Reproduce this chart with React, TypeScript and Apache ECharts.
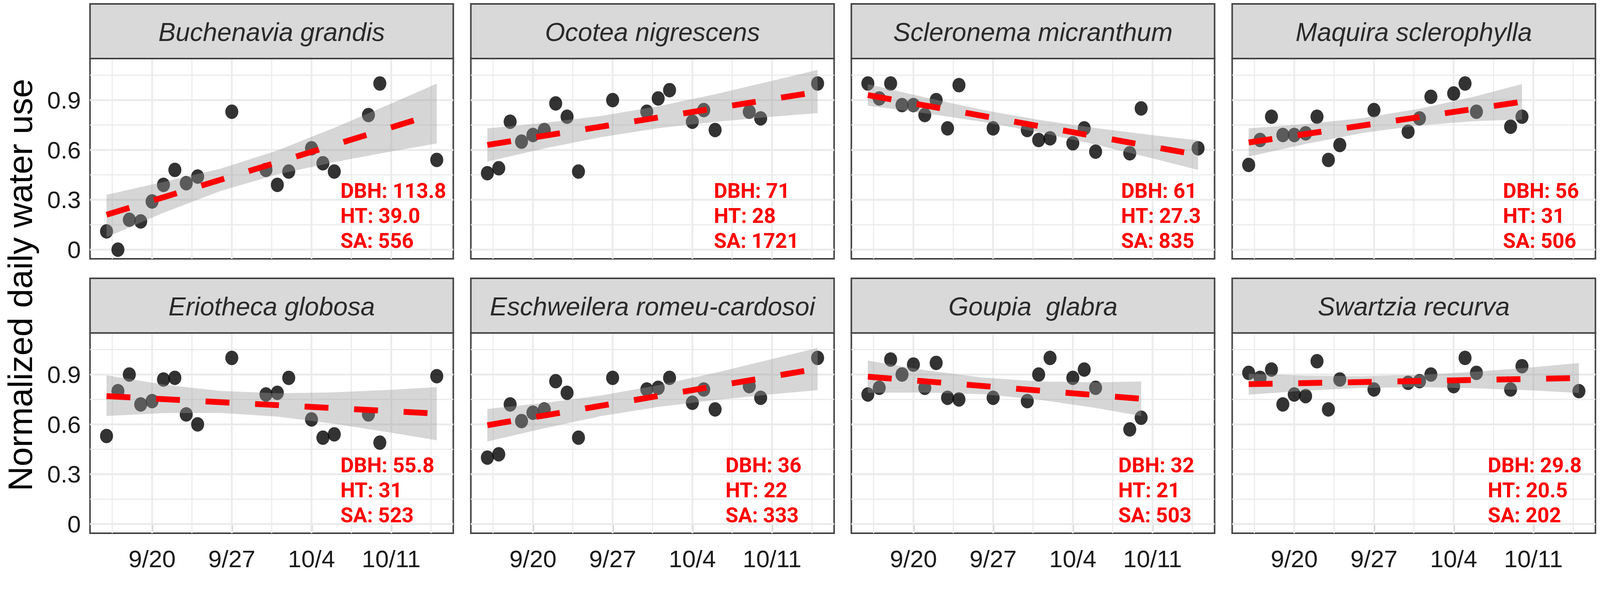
import React, { useEffect, useRef } from 'react';
import * as echarts from 'echarts';

// ---------- DATA ----------
const speciesNames = [
  'Buchenavia grandis',
  'Ocotea nigrescens',
  'Scleronema micranthum',
  'Maquira sclerophylla',
  'Eriotheca globosa',
  'Eschweilera romeu-cardosoi',
  'Goupia  glabra',
  'Swartzia recurva',
];

// measurement days, counted from 9/16
const daysFull = [0, 1, 2, 3, 4, 5, 6, 7, 8, 11, 14, 15, 16, 18, 19, 20, 23, 24, 29];
const daysShort = [0, 1, 2, 3, 4, 5, 6, 7, 8, 11, 14, 15, 16, 18, 19, 20, 23, 24];

const buchenaviaValues = [0.11, 0.0, 0.18, 0.17, 0.29, 0.39, 0.48, 0.4, 0.44, 0.83, 0.48, 0.39, 0.47, 0.61, 0.52, 0.47, 0.81, 1.0, 0.54];
const ocoteaValues = [0.46, 0.49, 0.77, 0.65, 0.69, 0.72, 0.88, 0.8, 0.47, 0.9, 0.83, 0.91, 0.96, 0.77, 0.84, 0.72, 0.83, 0.79, 1.0];
const scleronemaValues = [1.0, 0.91, 1.0, 0.87, 0.87, 0.81, 0.9, 0.73, 0.99, 0.73, 0.72, 0.66, 0.67, 0.64, 0.73, 0.59, 0.58, 0.85, 0.61];
const maquiraValues = [0.51, 0.66, 0.8, 0.69, 0.69, 0.7, 0.8, 0.54, 0.63, 0.84, 0.71, 0.79, 0.92, 0.94, 1.0, 0.83, 0.74, 0.8];
const eriothecaValues = [0.53, 0.8, 0.9, 0.72, 0.74, 0.87, 0.88, 0.66, 0.6, 1.0, 0.78, 0.79, 0.88, 0.63, 0.52, 0.54, 0.66, 0.49, 0.89];
const eschweileraValues = [0.4, 0.42, 0.72, 0.62, 0.67, 0.69, 0.86, 0.79, 0.52, 0.88, 0.81, 0.82, 0.88, 0.73, 0.81, 0.69, 0.83, 0.76, 1.0];
const goupiaValues = [0.78, 0.82, 0.99, 0.9, 0.96, 0.82, 0.97, 0.76, 0.75, 0.76, 0.74, 0.9, 1.0, 0.88, 0.93, 0.82, 0.57, 0.64];
const swartziaValues = [0.91, 0.88, 0.93, 0.72, 0.78, 0.77, 0.98, 0.69, 0.87, 0.81, 0.85, 0.86, 0.9, 0.83, 1.0, 0.91, 0.81, 0.95, 0.8];

const pointDays = [daysFull, daysFull, daysFull, daysShort, daysFull, daysFull, daysShort, daysFull];
const pointValues = [
  buchenaviaValues, ocoteaValues, scleronemaValues, maquiraValues,
  eriothecaValues, eschweileraValues, goupiaValues, swartziaValues,
];

// fitted trend line: [start, end] day and value
const fitDays = [[0, 29], [0, 29], [0, 29], [0, 24], [0, 29], [0, 29], [0, 24], [0, 29]];
const fitValues = [
  [0.21, 0.82], [0.63, 0.95], [0.93, 0.57], [0.645, 0.89],
  [0.77, 0.665], [0.595, 0.935], [0.887, 0.754], [0.842, 0.879],
];

// confidence band
const bandDaysFull = [0, 5, 10, 15, 20, 25, 29];
const bandDaysShort = [0, 5, 10, 15, 20, 24];
const bandDays = [bandDaysFull, bandDaysFull, bandDaysFull, bandDaysShort, bandDaysFull, bandDaysFull, bandDaysShort, bandDaysFull];
const bandLower = [
  [0.075, 0.222, 0.353, 0.453, 0.527, 0.591, 0.639],
  [0.53, 0.609, 0.677, 0.731, 0.769, 0.8, 0.822],
  [0.866, 0.821, 0.77, 0.707, 0.632, 0.549, 0.48],
  [0.56, 0.636, 0.702, 0.748, 0.774, 0.783],
  [0.65, 0.668, 0.669, 0.647, 0.603, 0.55, 0.504],
  [0.497, 0.577, 0.65, 0.705, 0.746, 0.781, 0.806],
  [0.79, 0.792, 0.782, 0.749, 0.699, 0.65],
  [0.779, 0.803, 0.82, 0.824, 0.817, 0.804, 0.789],
];
const bandUpper = [
  [0.33, 0.408, 0.487, 0.597, 0.733, 0.879, 0.999],
  [0.73, 0.763, 0.805, 0.863, 0.935, 1.016, 1.082],
  [0.996, 0.917, 0.842, 0.781, 0.732, 0.689, 0.658],
  [0.73, 0.756, 0.792, 0.848, 0.924, 0.997],
  [0.895, 0.84, 0.801, 0.787, 0.793, 0.808, 0.824],
  [0.693, 0.729, 0.774, 0.835, 0.91, 0.993, 1.06],
  [0.984, 0.926, 0.882, 0.859, 0.853, 0.858],
  [0.905, 0.893, 0.89, 0.898, 0.917, 0.944, 0.969],
];

const dbhLabels = ['113.8', '71', '61', '56', '55.8', '36', '32', '29.8'];
const htLabels = ['39.0', '28', '27.3', '31', '31', '22', '21', '20.5'];
const saLabels = ['556', '1721', '835', '506', '523', '333', '503', '202'];

const xTickDays = [4, 11, 18, 25];
const xTickLabels = ['9/20', '9/27', '10/4', '10/11'];
const xGridMinor = [0.5, 7.5, 14.5, 21.5, 28.5];
const yTickValues = [0, 0.3, 0.6, 0.9];
const yGridMinor = [0.15, 0.45, 0.75, 1.05];

const yTitle = 'Normalized daily water use';

// ---------- LAYOUT (in reference pixels, 4550 x 1514) ----------
const REF_W = 4550;
const REF_H = 1514;
const COL_LEFT = [256, 1339, 2421, 3504];
const PANEL_W = 1033;
const ROW_TOP = [150, 853];
const PANEL_H = 513;
const STRIP_H = 140;
const X_MIN = -1.45;
const X_MAX = 30.45;
const Y_MIN = -0.055;
const Y_MAX = 1.15;
const ANNOT_X = [712, 691, 767, 770, 712, 724, 759, 727];
const ANNOT_MID_Y = 403;
const ANNOT_LINE_H = 64;
const FONT = '"Liberation Sans", Arial, Helvetica, sans-serif';

function buildOption(vw: number, vh: number) {
  const sx = vw / REF_W;
  const sy = vh / REF_H;
  const grids: any[] = [];
  const xAxes: any[] = [];
  const yAxes: any[] = [];
  const series: any[] = [];
  const graphics: any[] = [];

  for (let i = 0; i < 8; i++) {
    const row = Math.floor(i / 4);
    const col = i % 4;
    const left = COL_LEFT[col];
    const top = ROW_TOP[row];

    grids.push({
      left: left * sx, top: top * sy, width: PANEL_W * sx, height: PANEL_H * sy,
      show: true, backgroundColor: '#ffffff', borderColor: '#444444', borderWidth: 4,
      containLabel: false, outerBoundsMode: 'none',
    });

    xAxes.push({
      type: 'value', gridIndex: i, min: X_MIN, max: X_MAX,
      axisLine: { show: false },
      splitLine: { show: false },
      axisTick: {
        show: row === 1, customValues: xTickDays, length: 18 * sy, inside: false,
        lineStyle: { color: '#444444', width: 4 },
      },
      axisLabel: {
        show: row === 1, customValues: xTickDays, margin: 34 * sy,
        fontSize: 62 * sy, color: '#1a1a1a', fontFamily: FONT,
        formatter: (v: number) => {
          const k = xTickDays.indexOf(Math.round(v));
          return k >= 0 ? xTickLabels[k] : '';
        },
      },
    });

    yAxes.push({
      type: 'value', gridIndex: i, min: Y_MIN, max: Y_MAX,
      axisLine: { show: false },
      splitLine: { show: false },
      axisTick: {
        show: col === 0, customValues: yTickValues, length: 16 * sx,
        lineStyle: { color: '#444444', width: 4 },
      },
      axisLabel: {
        show: col === 0, customValues: yTickValues, margin: 26 * sx,
        fontSize: 62 * sy, color: '#1a1a1a', fontFamily: FONT,
        formatter: (v: number) => String(Math.round(v * 10) / 10),
      },
    });

    // grid lines
    series.push({
      type: 'custom', xAxisIndex: i, yAxisIndex: i, z: 1, silent: true,
      data: [[0, 0]],
      renderItem: (_p: any, api: any) => {
        const children: any[] = [];
        const vLine = (x: number, w: number) => {
          const a = api.coord([x, Y_MIN]);
          const b = api.coord([x, Y_MAX]);
          children.push({ type: 'line', shape: { x1: a[0], y1: a[1], x2: b[0], y2: b[1] }, style: { stroke: '#EBEBEB', lineWidth: w * sx } });
        };
        const hLine = (y: number, w: number) => {
          const a = api.coord([X_MIN, y]);
          const b = api.coord([X_MAX, y]);
          children.push({ type: 'line', shape: { x1: a[0], y1: a[1], x2: b[0], y2: b[1] }, style: { stroke: '#EBEBEB', lineWidth: w * sy } });
        };
        xGridMinor.forEach((x) => vLine(x, 3));
        yGridMinor.forEach((y) => hLine(y, 3));
        xTickDays.forEach((x) => vLine(x, 5));
        yTickValues.forEach((y) => hLine(y, 5));
        return { type: 'group', children };
      },
    });

    // points
    series.push({
      type: 'scatter', xAxisIndex: i, yAxisIndex: i, z: 2, silent: true,
      symbol: 'circle', symbolSize: [37 * sx, 37 * sy],
      itemStyle: { color: '#000000' },
      data: pointDays[i].map((d, j) => [d, pointValues[i][j]]),
    });

    // confidence band
    const bd = bandDays[i];
    const lo = bandLower[i];
    const up = bandUpper[i];
    series.push({
      type: 'custom', xAxisIndex: i, yAxisIndex: i, z: 3, silent: true,
      data: [[0, 0]],
      renderItem: (_p: any, api: any) => {
        const pts: number[][] = [];
        for (let k = 0; k < bd.length; k++) pts.push(api.coord([bd[k], lo[k]]));
        for (let k = bd.length - 1; k >= 0; k--) pts.push(api.coord([bd[k], up[k]]));
        return { type: 'polygon', shape: { points: pts }, style: { fill: 'rgba(153,153,153,0.4)' } };
      },
    });

    // trend line
    series.push({
      type: 'line', xAxisIndex: i, yAxisIndex: i, z: 4, silent: true,
      showSymbol: false, symbol: 'none',
      lineStyle: { color: '#FF0000', width: 15 * sy, type: [68 * sx, 73 * sx], cap: 'butt' },
      data: fitDays[i].map((d, j) => [d, fitValues[i][j]]),
    });

    // strip
    graphics.push({
      type: 'rect', z: 10,
      shape: { x: left * sx, y: (top - STRIP_H) * sy, width: PANEL_W * sx, height: STRIP_H * sy },
      style: { fill: '#D9D9D9', stroke: '#444444', lineWidth: 4 },
    });
    graphics.push({
      type: 'text', z: 11,
      x: (left + PANEL_W / 2) * sx, y: (top - STRIP_H / 2 + 2) * sy,
      style: {
        text: speciesNames[i], fontSize: 66 * sy, fontStyle: 'italic', fontFamily: FONT,
        fill: '#2a2a2a', align: 'center', verticalAlign: 'middle',
      },
    });

    // annotation
    graphics.push({
      type: 'text', z: 12,
      x: (left + ANNOT_X[i]) * sx, y: (top + ANNOT_MID_Y) * sy,
      style: {
        text: ['DBH: ' + dbhLabels[i], 'HT: ' + htLabels[i], 'SA: ' + saLabels[i]].join('\n'),
        fontSize: 53 * sy, lineHeight: ANNOT_LINE_H * sy, fontWeight: 'bold',
        fontFamily: 'Roboto, "Liberation Sans", sans-serif',
        fill: '#FF0000', align: 'left', verticalAlign: 'middle',
      },
    });
  }

  graphics.push({
    type: 'text', z: 12, x: 57 * sx, y: 730 * sy, rotation: Math.PI / 2,
    style: {
      text: yTitle, fontSize: 88 * sy, fontFamily: FONT, fill: '#000000',
      align: 'center', verticalAlign: 'middle',
    },
  });

  return {
    animation: false,
    backgroundColor: '#ffffff',
    textStyle: { fontFamily: FONT },
    grid: grids,
    xAxis: xAxes,
    yAxis: yAxes,
    series,
    graphic: { elements: graphics },
  };
}

export default function App() {
  const ref = useRef<HTMLDivElement>(null);
  const vw = typeof window !== 'undefined' ? window.innerWidth || REF_W : REF_W;
  const vh = typeof window !== 'undefined' ? window.innerHeight || REF_H : REF_H;
  useEffect(() => {
    if (!ref.current) return;
    const chart = echarts.init(ref.current, null, { renderer: 'svg', width: vw, height: vh });
    chart.setOption(buildOption(vw, vh) as any);
    return () => chart.dispose();
  }, []);
  return (
    <div
      ref={ref}
      style={{ position: 'absolute', left: 0, top: 0, width: vw, height: vh, background: '#fff' }}
    />
  );
}
